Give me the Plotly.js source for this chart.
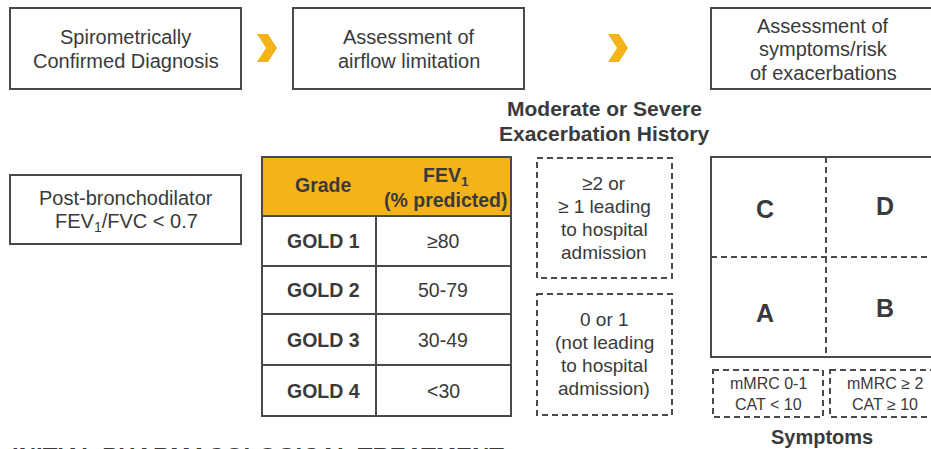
<!DOCTYPE html>
<html><head><meta charset="utf-8">
<script src="https://cdn.plot.ly/plotly-3.0.1.min.js"></script>
<style>html,body{margin:0;padding:0;background:#fff;overflow:hidden;}</style>
</head><body><div id="chart" style="width:931px;height:449px;"></div>
<script>
// ---- content ----
const stepLabels = [["Spirometrically","Confirmed Diagnosis"],["Assessment of","airflow limitation"],["Assessment of","symptoms/risk","of exacerbations"]];
const spiroLabel = ["Post-bronchodilator","FEV<sub>1</sub>/FVC < 0.7"];
const headerGrade = ["Grade"];
const headerFev = ["FEV<sub>1</sub>","(% predicted)"];
const gradeLabels = ["GOLD 1","GOLD 2","GOLD 3","GOLD 4"];
const fevRanges = ["≥80","50-79","30-49","<30"];
const historyTitle = ["Moderate or Severe","Exacerbation History"];
const historyLabels = [["≥2 or","≥ 1 leading","to hospital","admission"],["0 or 1","(not leading","to hospital","admission)"]];
const groupLabels = ["C","D","A","B"];
const symptomLabels = [["mMRC 0-1","CAT < 10"],["mMRC ≥ 2","CAT ≥ 10"]];
const symptomTitle = ["Symptoms"];
const footerLabel = ["INITIAL PHARMACOLOGICAL TREATMENT"];

// ---- styling / geometry ----
const FONT = "Liberation Sans, Arial, Helvetica, sans-serif";
const TXT = "#3a3a3a";
const LINE = "#4a4a4a";
const GOLD = "#F5B31A";
const DASH = "6px,4px";

const shapes = [];
const annotations = [];

function rect(x0,y0,x1,y1,opts){
  opts = opts||{};
  shapes.push({type:"rect",xref:"x",yref:"y",x0,y0,x1,y1,
    line:{color:opts.color||LINE,width:opts.width||2,dash:opts.dash||"solid"},
    fillcolor:opts.fill||"rgba(0,0,0,0)",layer:opts.layer||"above"});
}
function line(x0,y0,x1,y1,opts){
  opts = opts||{};
  shapes.push({type:"line",xref:"x",yref:"y",x0,y0,x1,y1,
    line:{color:LINE,width:2,dash:opts.dash||"solid"}});
}
function text(lines,x,yc,size,bold,spacing,opts){
  opts = opts||{};
  const n = lines.length;
  lines.forEach((t,i)=>{
    const y = yc + (i-(n-1)/2)*spacing;
    annotations.push({xref:opts.xref||"x",yref:opts.yref||"y",
      x:x, y: opts.yref==="paper" ? 1 - y/449 : y,
      text: bold?("<b>"+t+"</b>"):t, showarrow:false,
      xanchor:opts.xanchor||"center",yanchor:"middle",
      font:{family:FONT,size:size,color:TXT}});
  });
}
function chevron(x,yc){
  const h=14, w=9, t=11;
  const p = `M ${x} ${yc-h} L ${x+t} ${yc-h} L ${x+t+w} ${yc} L ${x+t} ${yc+h} L ${x} ${yc+h} L ${x+w} ${yc} Z`;
  shapes.push({type:"path",xref:"x",yref:"y",path:p,fillcolor:GOLD,line:{width:0}});
}

// top step boxes
const stepBoxes = [[10,241],[293,524],[711,945]];
stepBoxes.forEach((b,i)=>{
  rect(b[0],8,b[1],89);
  const sp = stepLabels[i].length===3 ? 23.5 : 24;
  text(stepLabels[i],(b[0]+Math.min(b[1],935))/2,49,20,false,sp);
});
chevron(257,48);
chevron(608,48);

// spirometry box
rect(10,175,241,244);
text(spiroLabel,126,210,20,false,24);

// GOLD table
const tX0=262, tX1=511, tXm=376;
const rowY=[157,216,266,314,365,416];
rect(tX0,rowY[0],tX1,rowY[1],{fill:GOLD,layer:"below",width:0.01,color:GOLD});
for(let i=1;i<rowY.length-1;i++) line(tX0,rowY[i],tX1,rowY[i]);
line(tXm,rowY[1],tXm,rowY[5]);
rect(tX0,rowY[0],tX1,rowY[5]);
text(headerGrade,323,185,19.5,true,24);
text(headerFev,446,188,19.5,true,24);
gradeLabels.forEach((g,i)=>{
  const yc=(rowY[i+1]+rowY[i+2])/2;
  text([g],323,yc,19.5,true,24);
  text([fevRanges[i]],443,yc,19.5,false,24);
});

// exacerbation history
text(historyTitle,604,121,21,true,25);
rect(537,158,672,278,{dash:DASH});
rect(537,294,672,415,{dash:DASH});
text(historyLabels[0],604,218,19,false,23.3);
text(historyLabels[1],604,354,19,false,23.3);

// ABCD grid
rect(711,157,960,357);
line(826,157,826,357,{dash:DASH});
line(711,257,931,257,{dash:DASH});
const groupPos=[[765,209],[885,206],[765,313],[885,308]];
groupLabels.forEach((g,i)=>text([g],groupPos[i][0],groupPos[i][1],25,true,0));

// symptoms boxes
rect(713,370,823,417,{dash:DASH});
rect(830,370,960,417,{dash:DASH});
text(symptomLabels[0],768,393.5,16,false,21);
text(symptomLabels[1],885,393.5,16,false,21);
text(symptomTitle,822,437,20,true,0);

// footer (cut off at bottom)
text(footerLabel,10/931,456,24,true,0,{xref:"paper",yref:"paper",xanchor:"left"});

const layout = {
  width:931,height:449,margin:{l:0,r:0,t:0,b:0},
  paper_bgcolor:"#fff",plot_bgcolor:"#fff",
  xaxis:{range:[0,931],visible:false,fixedrange:true},
  yaxis:{range:[449,0],visible:false,fixedrange:true},
  showlegend:false,shapes,annotations
};
Plotly.newPlot("chart",[{x:[0],y:[0],mode:"markers",marker:{opacity:0},hoverinfo:"skip"}],layout,{staticPlot:true,displayModeBar:false});
</script></body></html>
